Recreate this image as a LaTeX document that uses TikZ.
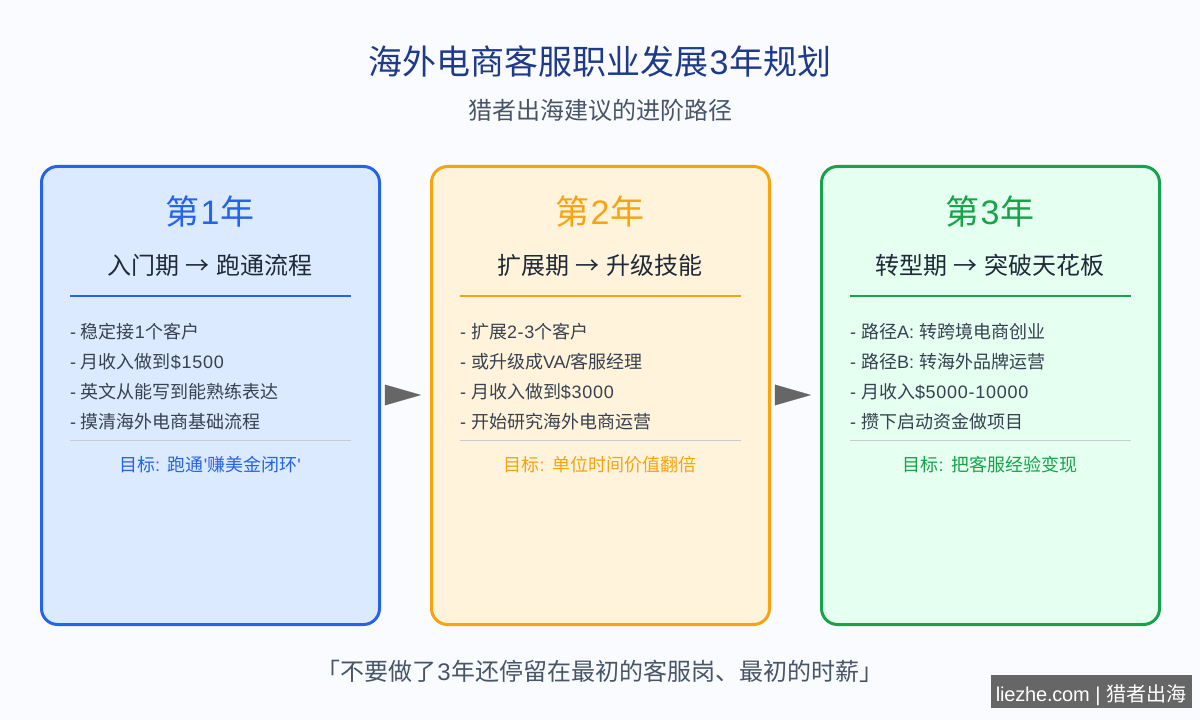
\documentclass[tikz,border=0pt]{standalone}
\usepackage{fontspec}
\setmainfont{Liberation Sans}
\newfontfamily\cjkfam{Noto Sans CJK SC}
\newfontfamily\plainfam{Liberation Sans}
\newfontfamily\widefam[LetterSpace=4]{Liberation Sans}
\newfontfamily\tightfam[LetterSpace=-1]{Liberation Sans}
\newcommand{\C}[1]{{\cjkfam #1}}
\newcommand{\D}[1]{{\widefam #1}}
\newcommand{\Q}{{\plainfam '}}
\usetikzlibrary{arrows.meta}
\definecolor{bg}{HTML}{FAFBFE}
\definecolor{titlec}{HTML}{1E3A8A}
\definecolor{subc}{HTML}{475569}
\definecolor{headc}{HTML}{1F2937}
\definecolor{itemc}{HTML}{374151}
\definecolor{bluec}{HTML}{2563EB}
\definecolor{bluef}{HTML}{DBEAFE}
\definecolor{orangec}{HTML}{F8A30F}
\definecolor{orangef}{HTML}{FFF3DB}
\definecolor{greenc}{HTML}{16A34A}
\definecolor{greenf}{HTML}{E5FFF0}
\definecolor{rulec}{HTML}{C8CCD2}
\definecolor{markc}{HTML}{666666}
\tikzset{
  txt/.style={inner sep=0pt,outer sep=0pt,anchor=base},
  pagetitle/.style={txt,text=titlec,font=\fontsize{25.5pt}{30pt}\selectfont},
  pagesub/.style={txt,text=subc,font=\fontsize{18pt}{22pt}\selectfont},
  card/.style={draw=#1,line width=2.25pt,rounded corners=12pt,minimum width=253.5pt,minimum height=343.5pt,inner sep=0pt,outer sep=0pt},
  year/.style={txt,text=#1,font=\fontsize{25.5pt}{30pt}\selectfont},
  phase/.style={txt,text=headc,font=\fontsize{18pt}{22pt}\selectfont},
  item/.style={txt,anchor=base west,text=itemc,font=\fontsize{13.5pt}{16pt}\selectfont},
  goal/.style={txt,text=#1,font=\fontsize{13.5pt}{16pt}\selectfont},
  headrule/.style={draw=#1,line width=1.5pt},
  footrule/.style={draw=rulec,line width=0.75pt},
  flow/.style={draw=markc,line width=0.1pt,-{Triangle[length=27pt,width=15.5pt,fill=markc]},shorten <=4.1pt,shorten >=7.9pt},
}
\begin{document}
\begin{tikzpicture}[x=0.75pt,y=-0.75pt]
\useasboundingbox (0,0) rectangle (1200,720);
\fill[bg] (0,0) rectangle (1200,720);
\node[pagetitle] (title) at (600,75) {\C{海外电商客服职业发展}\kern0.6pt 3\kern0.6pt\C{年规划}};
\node[pagesub] (subtitle) at (600,120) {\C{猎者出海建议的进阶路径}};
% cards
\node[card=bluec,fill=bluef] (c1) at (210.5,395.5) {};
\node[card=orangec,fill=orangef] (c2) at (600.5,395.5) {};
\node[card=greenc,fill=greenf] (c3) at (990.5,395.5) {};
\draw[flow] ([yshift=0.375pt]c1.east) -- ([yshift=0.375pt]c2.west);
\draw[flow] ([yshift=0.375pt]c2.east) -- ([yshift=0.375pt]c3.west);
% card 1
\node[year=bluec] (y1) at (210,225) {\C{第}\kern0.6pt 1\kern0.6pt\C{年}};
\node[phase] (p1) at (210,275) {\C{入门期} \C{→} \C{跑通流程}};
\draw[headrule=bluec] (70,296) -- (351,296);
\node[item] (a1) at (70,338.7) {- \C{稳定接}\D{1}\C{个客户}};
\node[item] (a2) at (70,368.7) {- \C{月收入做到}\D{\$1500}};
\node[item] (a3) at (70,398.7) {- \C{英文从能写到能熟练表达}};
\node[item] (a4) at (70,428.7) {- \C{摸清海外电商基础流程}};
\draw[footrule] (70,440.5) -- (351,440.5);
\node[goal=bluec] (g1) at (210,471) {\C{目标}:\kern0.75pt{} \C{跑通}\Q\C{赚美金闭环}\Q};
% card 2
\node[year=orangec] (y2) at (600,225) {\C{第}\kern0.6pt 2\kern0.6pt\C{年}};
\node[phase] (p2) at (600,275) {\C{扩展期} \C{→} \C{升级技能}};
\draw[headrule=orangec] (460,296) -- (741,296);
\node[item] (b1) at (460,338.7) {- \C{扩展}\D{2-3}\C{个客户}};
\node[item] (b2) at (460,368.7) {- \C{或升级成}VA/\C{客服经理}};
\node[item] (b3) at (460,398.7) {- \C{月收入做到}\D{\$3000}};
\node[item] (b4) at (460,428.7) {- \C{开始研究海外电商运营}};
\draw[footrule] (460,440.5) -- (741,440.5);
\node[goal=orangec] (g2) at (600,471) {\C{目标}:\kern0.75pt{} \C{单位时间价值翻倍}};
% card 3
\node[year=greenc] (y3) at (990,225) {\C{第}\kern0.6pt 3\kern0.6pt\C{年}};
\node[phase] (p3) at (990,275) {\C{转型期} \C{→} \C{突破天花板}};
\draw[headrule=greenc] (850,296) -- (1131,296);
\node[item] (d1) at (850,338.7) {- \C{路径}A: \C{转跨境电商创业}};
\node[item] (d2) at (850,368.7) {- \C{路径}B: \C{转海外品牌运营}};
\node[item] (d3) at (850,398.7) {- \C{月收入}\D{\$5000-10000}};
\node[item] (d4) at (850,428.7) {- \C{攒下启动资金做项目}};
\draw[footrule] (850,440.5) -- (1131,440.5);
\node[goal=greenc] (g3) at (990,471) {\C{目标}:\kern0.75pt{} \C{把客服经验变现}};
% footer
\node[pagesub] (quote) at (600,680) {\C{「不要做了}\kern0.5pt 3\kern0.5pt\C{年还停留在最初的客服岗、最初的时薪」}};
\fill[markc] (991,675) rectangle (1192,708);
\node[txt,text=white,font=\fontsize{15pt}{18pt}\selectfont] (mark) at (1091,701) {{\tightfam liezhe.com} | \C{猎者出海}};
\end{tikzpicture}
\end{document}
